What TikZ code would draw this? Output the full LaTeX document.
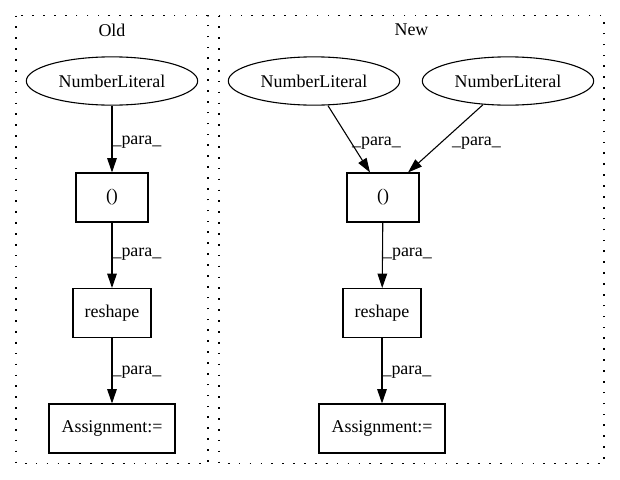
\documentclass[tikz,border=0pt]{standalone}
\usepackage{fontspec}
\setmainfont{Liberation Serif}
\usetikzlibrary{arrows.meta,calc,shapes.geometric}
\begin{document}
\begin{tikzpicture}[x=0.7353pt,y=-0.7353pt,
  font=\fontsize{13.2}{15}\selectfont,
  cluster/.style={draw, line width=1pt, dash pattern=on 1.2pt off 6.8pt},
  lit/.style={ellipse, draw, line width=0.8pt, minimum width=126pt, minimum height=35.5pt, inner sep=0pt},
  box/.style={rectangle, draw, line width=0.8pt, minimum height=36pt, inner sep=0pt},
  edge/.style={draw, line width=0.8pt, -{Triangle[length=10.5pt,width=7pt]}},
  lab/.style={anchor=west, inner sep=0pt}
]
\useasboundingbox (0,0) rectangle (620,480);
% clusters
\draw[cluster] (16,15.5) rectangle (208,463.5);
\draw[cluster] (219,15.5) rectangle (604,463.5);
\node (oldlbl) at (112,30) {Old};
\node (newlbl) at (411.5,30) {New};
% Old
\node[lit] (onl) at (112,81) {NumberLiteral};
\node[box, minimum width=53pt] (opar) at (112,197.5) {()};
\node[box, minimum width=57.4pt] (oresh) at (112,313) {reshape};
\node[box, minimum width=92.6pt] (oass) at (112,428.5) {Assignment:=};
\draw[edge] (onl) -- node[lab, pos=.54] {\_para\_} (opar);
\draw[edge] (opar) -- node[lab, pos=.49] {\_para\_} (oresh);
\draw[edge] (oresh) -- node[lab, pos=.52] {\_para\_} (oass);
% New
\node[lit] (nnl1) at (314,81) {NumberLiteral};
\node[lit] (nnl2) at (508,81) {NumberLiteral};
\node[box, minimum width=53pt] (npar) at (383,197.5) {()};
\node[box, minimum width=57.4pt] (nresh) at (382,313) {reshape};
\node[box, minimum width=92.6pt] (nass) at (382,428.5) {Assignment:=};
\draw[edge] ($(nnl1.south)+(14,0)$) -- node[lab, pos=.56] {\_para\_} ($(npar.north)+(-13,0)$);
\draw[edge] ($(nnl2.south)+(-25,-1)$) -- node[lab, pos=.565, xshift=8pt] {\_para\_} ($(npar.north)+(25,0)$);
\draw[edge] (npar) -- node[lab, pos=.49] {\_para\_} (nresh);
\draw[edge] (nresh) -- node[lab, pos=.52] {\_para\_} (nass);
\end{tikzpicture}
\end{document}
